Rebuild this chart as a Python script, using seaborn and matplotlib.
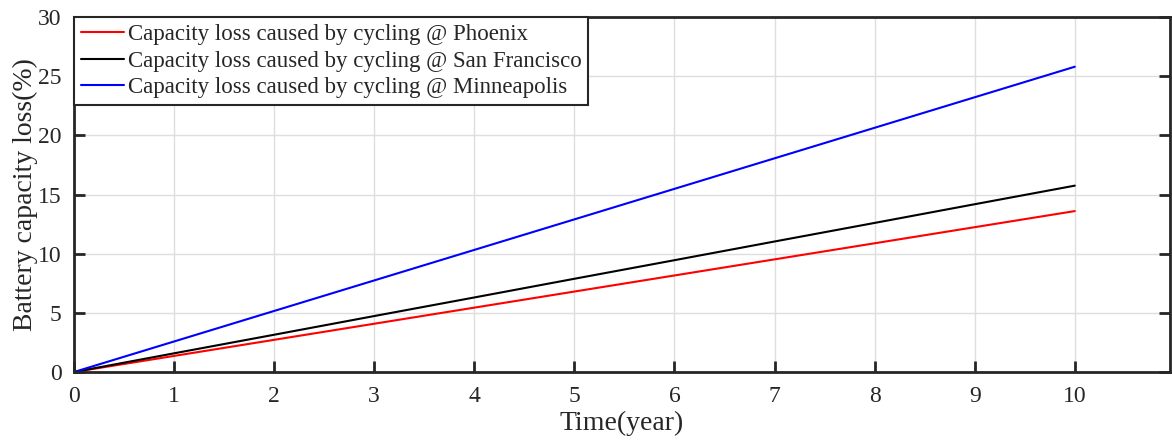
import numpy as np
import pandas as pd
import seaborn as sns
import matplotlib.pyplot as plt

# Cycling-induced capacity loss over ten years for three cities
years = [0, 1, 2, 3, 4, 5, 6, 7, 8, 9, 10]
phoenix = [0, 1.36, 2.72, 4.08, 5.44, 6.8, 8.16, 9.52, 10.88, 12.24, 13.6]
san_francisco = [0, 1.58, 3.15, 4.73, 6.3, 7.88, 9.45, 11.03, 12.6, 14.18, 15.75]
minneapolis = [0, 2.58, 5.16, 7.74, 10.32, 12.9, 15.48, 18.06, 20.64, 23.22, 25.8]

series_names = [
    "Capacity loss caused by cycling @ Phoenix",
    "Capacity loss caused by cycling @ San Francisco",
    "Capacity loss caused by cycling @ Minneapolis",
]
series_colors = ["#ff0000", "#000000", "#0000ff"]

df = pd.concat(
    [
        pd.DataFrame({"Year": years, "Loss": vals, "Series": name})
        for name, vals in zip(series_names, [phoenix, san_francisco, minneapolis])
    ],
    ignore_index=True,
)

sns.set_theme(style="white")
plt.rcParams["font.family"] = ["Liberation Serif", "DejaVu Serif"]

fig = plt.figure(figsize=(11.72, 4.48), dpi=100)
ax = fig.add_axes([0.0631, 0.1696, 0.9351, 0.7924])

sns.lineplot(
    data=df, x="Year", y="Loss", hue="Series",
    palette=dict(zip(series_names, series_colors)),
    hue_order=series_names, linewidth=1.5, ax=ax, legend=True,
)

ax.set_xlim(0, 10.95)
ax.set_ylim(0, 30)
ax.set_xticks(range(0, 11))
ax.set_yticks(range(0, 31, 5))
ax.grid(True, color="#dedede", linewidth=1.0)
ax.tick_params(direction="in", length=8, width=2, color="#262626",
               labelsize=17, labelcolor="#262626",
               bottom=True, left=True, top=False, right=True)
ax.tick_params(axis="x", pad=10)
ax.tick_params(axis="y", pad=9)
for s in ax.spines.values():
    s.set_color("#262626")
    s.set_linewidth(2)

ax.set_xlabel("Time(year)", fontsize=20, color="#262626", labelpad=3)
ax.set_ylabel("Battery capacity loss(%)", fontsize=20, color="#262626", labelpad=0)

leg = ax.legend(loc="upper left", fontsize=16.5, frameon=True, fancybox=False,
                edgecolor="#262626", handlelength=1.9, handletextpad=0.15,
                borderpad=0.3, labelspacing=0.25, borderaxespad=0.0)
leg.get_frame().set_linewidth(1.5)
leg.get_frame().set_alpha(1)
for line in leg.get_lines():
    line.set_linewidth(1.5)

fig.savefig("out.png", dpi=100)
